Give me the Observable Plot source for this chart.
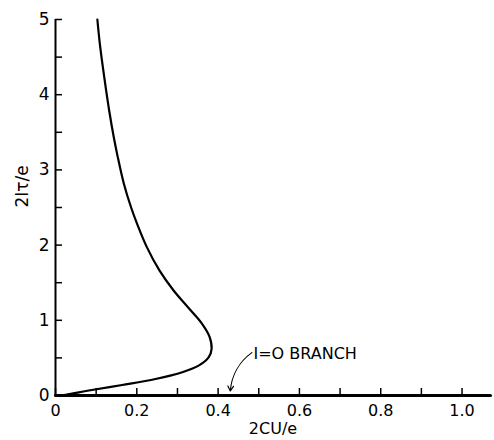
<!DOCTYPE html>
<html>
<head>
<meta charset="utf-8">
<script src="https://cdn.jsdelivr.net/npm/d3@7"></script>
<script src="https://cdn.jsdelivr.net/npm/@observablehq/plot@0.6"></script>
<style>
  body { margin: 0; background: #fff; }
  svg { font-family: "DejaVu Sans", sans-serif; }
</style>
</head>
<body>
<div id="chart"></div>
<script>
const curveX = [0, 0.025, 0.082, 0.164, 0.246, 0.312, 0.353, 0.377, 0.384, 0.379, 0.361, 0.328, 0.290, 0.256, 0.225, 0.201, 0.186, 0.168, 0.152, 0.1435, 0.132, 0.120, 0.109, 0.103];
const curveY = [0, 0.01, 0.066, 0.14, 0.22, 0.31, 0.40, 0.51, 0.62, 0.78, 0.95, 1.16, 1.40, 1.66, 1.97, 2.28, 2.50, 2.82, 3.2, 3.43, 3.79, 4.23, 4.68, 5.0];
const branchX = [0, 1.07];
const xTicks = [0, 0.1, 0.2, 0.3, 0.4, 0.5, 0.6, 0.7, 0.8, 0.9, 1.0];
const xLabels = [0, 0.2, 0.4, 0.6, 0.8, 1.0];
const yTicks = [0, 0.5, 1, 1.5, 2, 2.5, 3, 3.5, 4, 4.5, 5];
const yLabels = [0, 1, 2, 3, 4, 5];
const branchLabel = [{x: 0.487, y: 0.56, text: "I=O BRANCH"}];
const branchArrow = [{x1: 0.483, y1: 0.57, x2: 0.43, y2: 0.06}];

const curve = curveX.map((x, i) => ({x, y: curveY[i]}));

const chart = Plot.plot({
  width: 494,
  height: 440,
  marginLeft: 55,
  marginRight: 4,
  marginTop: 19,
  marginBottom: 45,
  style: {fontFamily: "DejaVu Sans, sans-serif", fontSize: "16px", color: "black", background: "#fff"},
  x: {domain: [0, 1.07], label: null},
  y: {domain: [0, 5], label: null},
  marks: [
    Plot.axisX({ticks: xTicks, tickSize: -7, strokeWidth: 1.5, stroke: "black", text: null}),
    Plot.axisX({ticks: xLabels, tickSize: 0, tickPadding: 9, tickFormat: d => d === 0 ? "0" : d.toFixed(1), fontSize: 16, fill: "black"}),
    Plot.axisY({ticks: yTicks, tickSize: -7, strokeWidth: 1.5, stroke: "black", text: null}),
    Plot.axisY({ticks: yLabels, tickSize: 0, tickPadding: 6, tickFormat: d => String(d), fontSize: 17, fill: "black"}),
    Plot.ruleX([0], {y1: 0, y2: 5, strokeWidth: 2, stroke: "black"}),
    Plot.line(branchX.map(x => ({x, y: 0})), {x: "x", y: "y", strokeWidth: 3, stroke: "black"}),
    Plot.line(curve, {x: "x", y: "y", curve: "catmull-rom", strokeWidth: 2.2, stroke: "black"}),
    Plot.text(branchLabel, {x: "x", y: "y", text: "text", textAnchor: "start", fontSize: 16, fill: "black"}),
    Plot.arrow(branchArrow, {x1: "x1", y1: "y1", x2: "x2", y2: "y2", bend: -25, headLength: 7, strokeWidth: 1.2, stroke: "black"}),
    Plot.text(["2CU/e"], {frameAnchor: "bottom", dy: 38, fontSize: 16, fill: "black"}),
    Plot.text(["2Iτ/e"], {frameAnchor: "left", dx: -33, rotate: -90, fontSize: 17, fill: "black"})
  ]
});
document.getElementById("chart").appendChild(chart);
</script>
</body>
</html>
